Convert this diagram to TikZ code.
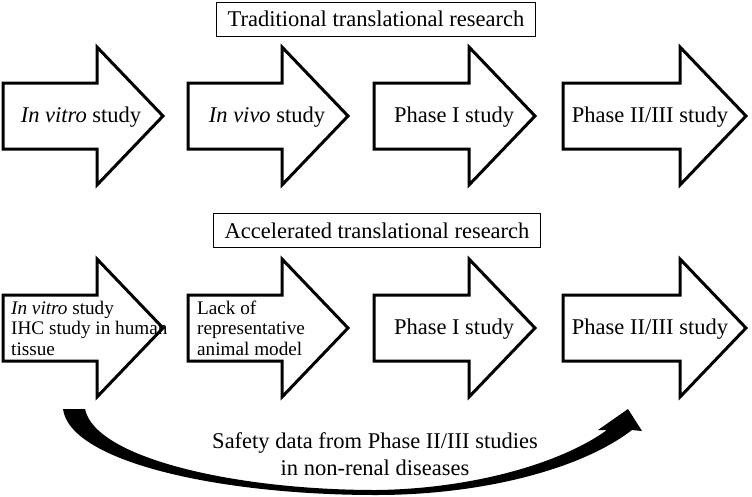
\documentclass[tikz,border=0pt]{standalone}
\usepackage{fontspec}
\setmainfont{Liberation Serif}
\usetikzlibrary{positioning}

\tikzset{
  stagearrow/.style={draw=black, fill=white, line width=3pt, line join=miter},
  titlebox/.style={draw=black, line width=1pt, fill=white, inner xsep=11pt, minimum height=34pt, font=\fontsize{22.5}{27}\selectfont},
  stagetext/.style={inner sep=0pt, font=\fontsize{22.5}{27}\selectfont},
  smalltext/.style={inner sep=0pt, align=left, anchor=west, font=\fontsize{19.2}{20.5}\selectfont},
}

\begin{document}
\begin{tikzpicture}[x=1pt, y=-1pt]
  \useasboundingbox (0,0) rectangle (752,496);

  % Block arrows (two rows)
  \foreach \xl/\xb in {3/97, 188/282, 374/469, 563/680}
    \foreach \yc in {116, 328}
      \draw[stagearrow] (\xl,\yc-33) -- (\xb,\yc-33) -- (\xb,\yc-69) -- (\xb+66,\yc)
        -- (\xb,\yc+69) -- (\xb,\yc+33) -- (\xl,\yc+33) -- cycle;

  % Titles
  \node[titlebox] (trad) at (376,19) {Traditional translational research};
  \node[titlebox] (accel) at (377,230.5) {Accelerated translational research};

  % Traditional row
  \node[stagetext] (vitroA) at (81,117) {\textit{In vitro} study};
  \node[stagetext] (vivoA) at (267,117) {\textit{In vivo} study};
  \node[stagetext] (phaseoneA) at (454,117) {Phase I study};
  \node[stagetext] (phasetwoA) at (650,117) {Phase II/III study};

  % Accelerated row
  \node[smalltext] (vitroB) at (11,328) {\textit{In vitro} study\\IHC study in human\\tissue};
  \node[smalltext] (lackB) at (197,328) {Lack of\\representative\\animal model};
  \node[stagetext] (phaseoneB) at (454,329) {Phase I study};
  \node[stagetext] (phasetwoB) at (650,329) {Phase II/III study};

  % Curved arrow with safety data
  \fill[black] (63,409) .. controls (70,462) and (220,495) .. (376,495)
    .. controls (480,495) and (580,470) .. (632,430)
    -- (642,431) -- (628,409) -- (598,430) -- (607,430)
    .. controls (560,464) and (470,489) .. (376,490)
    .. controls (235,490) and (95,458) .. (85,409) -- cycle;
  \node[stagetext, align=center] (safety) at (375,454)
    {Safety data from Phase II/III studies\\in non-renal diseases};
\end{tikzpicture}
\end{document}
